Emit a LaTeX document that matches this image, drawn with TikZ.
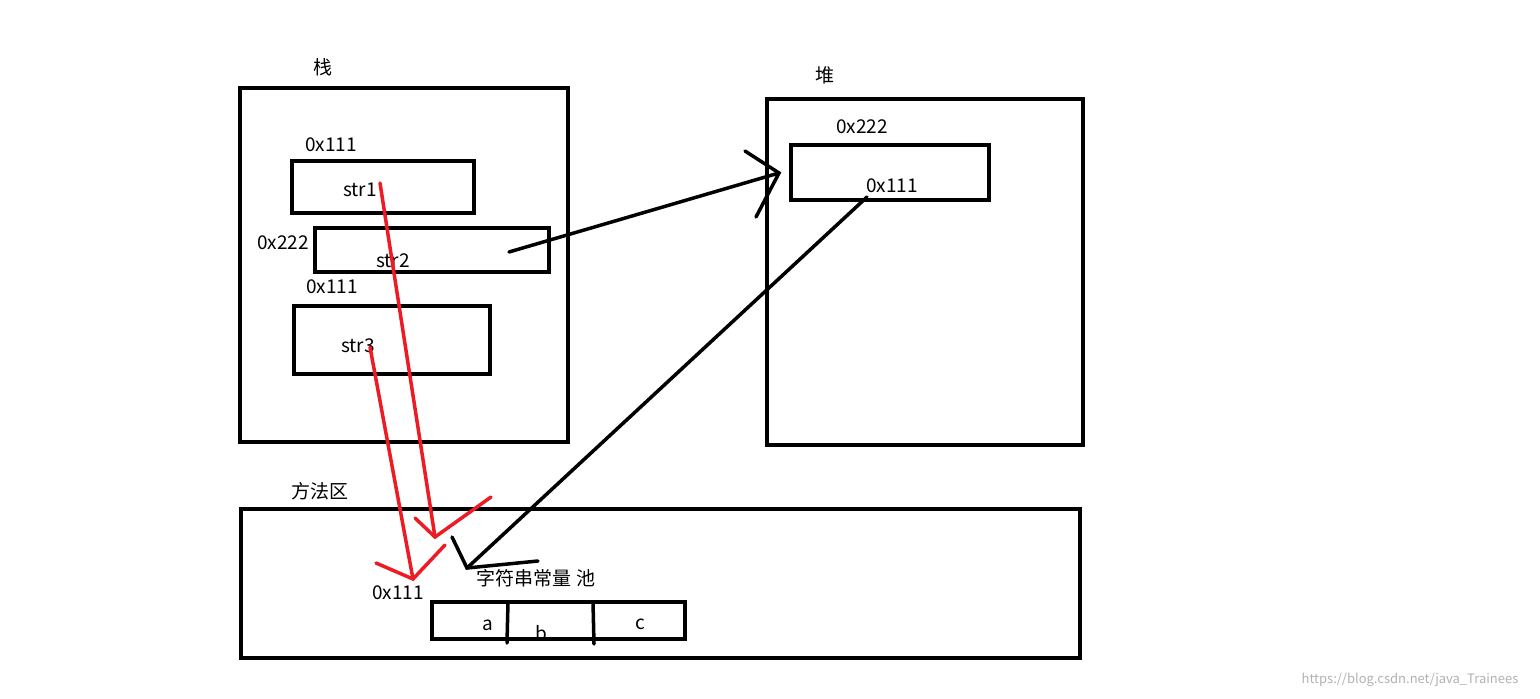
\documentclass[tikz,border=0pt]{standalone}
\usepackage{fontspec}
\setmainfont{Noto Sans CJK SC}
\begin{document}
\begin{tikzpicture}[x=1pt,y=-1pt,
  box/.style={draw,line width=4pt},
  lbl/.style={font=\fontsize{19}{22}\selectfont,inner sep=0pt},
  red/.style={draw={rgb,255:red,237;green,28;blue,36},line width=3.5pt,line cap=round},
  blk/.style={draw,line width=3.5pt,line cap=round}]
\useasboundingbox[fill=white] (0,0) rectangle (1540,699);
% stack
\node[lbl] (tstack) at (323,67) {栈};
\draw[box] (240,88) rectangle (568,442);
\node[lbl] (a1) at (331,145) {0x111};
\draw[box] (292,161) rectangle (474,213);
\node[lbl] (s1) at (360,190) {str1};
\node[lbl] (a2) at (283,243) {0x222};
\draw[box] (315,228) rectangle (549,272);
\node[lbl] (s2) at (393,261) {str2};
\node[lbl] (a3) at (332,287) {0x111};
\draw[box] (294,306) rectangle (490,374);
\node[lbl] (s3) at (358,346) {str3};
% heap
\node[lbl] (theap) at (825,75) {堆};
\draw[box] (767,99) rectangle (1083,445);
\node[lbl] (h1) at (862,127) {0x222};
\draw[box] (791,145) rectangle (989,200);
\node[lbl] (h2) at (892,186) {0x111};
% method area
\node[lbl] (tm) at (320,491) {方法区};
\draw[box] (241,509) rectangle (1080,658);
\node[lbl] (pool) at (536,578) {字符串常量\ 池};
\node[lbl] (p0) at (398,593) {0x111};
\draw[box] (432,602) rectangle (685,639);
\draw[blk] (508,602) -- (507,643);
\draw[blk] (593,602) -- (594,644);
\node[lbl] (pa) at (488,625) {a};
\node[lbl] (pb) at (541,633) {b};
\node[lbl] (pc) at (640,624) {c};
% red arrows
\coordinate (r1s) at (380,183); \coordinate (r1e) at (435,537);
\draw[red] (r1s) -- (r1e);
\draw[red] (415,518) -- (r1e) -- (491,497);
\coordinate (r3s) at (370,347); \coordinate (r3e) at (413,579);
\draw[red] (r3s) -- (r3e);
\draw[red] (376,563) -- (r3e) -- (445,545);
% black arrows
\coordinate (b1s) at (509,252); \coordinate (b1e) at (779,173);
\draw[blk] (b1s) -- (b1e);
\draw[blk] (745,151) -- (b1e) -- (756,217);
\coordinate (b2s) at (867,197); \coordinate (b2e) at (467,568);
\draw[blk] (b2s) -- (b2e);
\draw[blk] (452,537) -- (b2e) -- (538,561);
\node[font=\fontsize{13}{15}\selectfont,text=gray!60,inner sep=0pt] (wm) at (1410,680) {https://blog.csdn.net/java\_Trainees};
\end{tikzpicture}
\end{document}
